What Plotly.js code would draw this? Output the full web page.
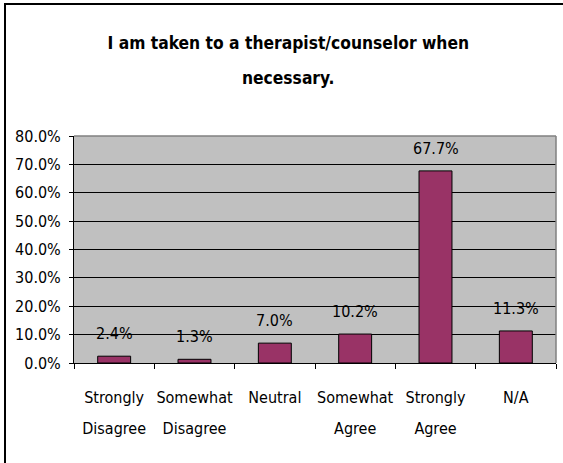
<!DOCTYPE html>
<html>
<head>
<meta charset="utf-8">
<script src="https://cdn.plot.ly/plotly-3.0.1.min.js"></script>
<style>
  html, body { margin: 0; padding: 0; background: #ffffff; }
  #wrap { position: relative; width: 563px; height: 463px; overflow: hidden; }
  #chart { width: 563px; height: 463px; }
  #frame { position: absolute; left: 4px; top: 3px; width: 600px; height: 500px;
           border-top: 2px solid #000; border-left: 2px solid #000; pointer-events: none; }
</style>
</head>
<body>
<div id="wrap">
  <div id="chart"></div>
  <div id="frame"></div>
</div>
<script>
const categories = ["Strongly Disagree", "Somewhat Disagree", "Neutral", "Somewhat Agree", "Strongly Agree", "N/A"];
const tickLabels = ["Strongly<br>Disagree", "Somewhat<br>Disagree", "Neutral<br> ", "Somewhat<br>Agree", "Strongly<br>Agree", "N/A<br> "];
const values = [0.024, 0.013, 0.070, 0.102, 0.677, 0.113];
const valueLabels = ["2.4%", "1.3%", "7.0%", "10.2%", "67.7%", "11.3%"];
const titleLines = ["I am taken to a therapist/counselor when", "necessary."];

const FONT = "'DejaVu Sans Condensed', 'Liberation Sans Narrow', 'Arial Narrow', sans-serif";

const trace = {
  type: "bar",
  x: categories,
  y: values,
  marker: { color: "#993366", line: { color: "#000000", width: 1 } },
  hoverinfo: "none"
};

const annotations = categories.map((c, i) => ({
  x: c, y: values[i], xref: "x", yref: "y",
  text: valueLabels[i], showarrow: false,
  yanchor: "bottom", yshift: 11,
  font: { family: FONT, size: 16, color: "#000" }
}));

const layout = {
  width: 563, height: 463,
  margin: { l: 73.5, r: 6.5, t: 135.5, b: 99.7, pad: 0 },
  paper_bgcolor: "#ffffff",
  plot_bgcolor: "#c0c0c0",
  showlegend: false,
  bargap: 0.59,
  title: {
    text: '<span style="font-size:17.3px">' + titleLines.join("<br>") + '</span>',
    font: { family: FONT, size: 27, color: "#000", weight: "bold" },
    x: 0.512, xanchor: "center", xref: "container",
    y: 0.895, yanchor: "middle", yref: "container"
  },
  xaxis: {
    type: "category",
    tickvals: categories,
    ticktext: tickLabels.map(t => '<span style="font-size:16px">' + t + '</span>'),
    tickangle: 0,
    tickson: "boundaries",
    ticks: "outside", ticklen: 5, tickcolor: "#000", tickwidth: 1,
    showline: true, linecolor: "#000", linewidth: 1,
    showgrid: false, zeroline: false,
    tickfont: { family: FONT, size: 24, color: "#000" },
    ticklabelstandoff: 10,
    automargin: false,
    fixedrange: true
  },
  yaxis: {
    range: [0, 0.8],
    dtick: 0.1, tick0: 0,
    tickformat: ".1%",
    ticks: "outside", ticklen: 4, tickcolor: "#000", tickwidth: 1,
    showline: true, linecolor: "#000", linewidth: 1,
    showgrid: true, gridcolor: "#000", gridwidth: 1,
    zeroline: false,
    tickfont: { family: FONT, size: 16, color: "#000" },
    ticklabelstandoff: 5,
    automargin: false,
    fixedrange: true
  },
  shapes: [
    { type: "line", xref: "paper", yref: "paper", x0: 0, x1: 1, y0: 1, y1: 1,
      line: { color: "#808080", width: 1.5 } },
    { type: "line", xref: "paper", yref: "paper", x0: 1, x1: 1, y0: 0, y1: 1,
      line: { color: "#808080", width: 1.5 } }
  ],
  annotations: annotations
};

Plotly.newPlot("chart", [trace], layout, { displayModeBar: false, staticPlot: true });
</script>
</body>
</html>
